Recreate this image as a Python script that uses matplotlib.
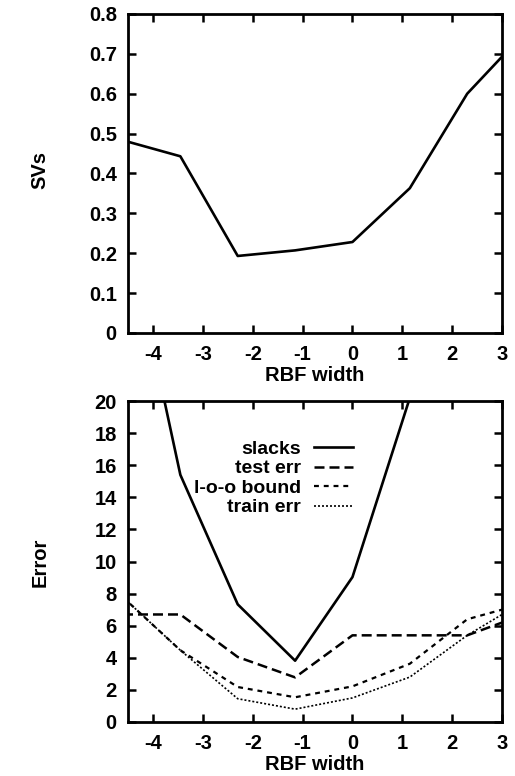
import matplotlib
matplotlib.use("Agg")
import matplotlib.pyplot as plt

plt.rcParams['font.family'] = ['Liberation Sans', 'DejaVu Sans']
plt.rcParams['font.weight'] = 'bold'
plt.rcParams['axes.labelweight'] = 'bold'
plt.rcParams['axes.unicode_minus'] = False
plt.rcParams['font.size'] = 14.5

# log RBF width grid (points beyond the axis limits are clipped)
rbf_width = [-4.6, -3.45, -2.3, -1.15, 0.0, 1.15, 2.3, 3.45]

# top panel: fraction of support vectors
svs = [0.483, 0.443, 0.193, 0.207, 0.228, 0.363, 0.600, 0.753]

# bottom panel: error curves
slacks = [32.0, 15.4, 7.33, 3.82, 9.03, 20.2, 35.0, 55.0]
test_err = [6.7, 6.7, 4.05, 2.78, 5.4, 5.4, 5.4, 6.71]
loo_bound = [7.77, 4.47, 2.18, 1.54, 2.22, 3.63, 6.4, 7.39]
train_err = [7.77, 4.47, 1.45, 0.8, 1.5, 2.8, 5.4, 7.54]

x_ticks = [-4, -3, -2, -1, 0, 1, 2, 3]
svs_ticks = [0, 0.1, 0.2, 0.3, 0.4, 0.5, 0.6, 0.7, 0.8]
svs_ticklabels = ['0', '0.1', '0.2', '0.3', '0.4', '0.5', '0.6', '0.7', '0.8']
err_ticks = [0, 2, 4, 6, 8, 10, 12, 14, 16, 18, 20]

fig = plt.figure(figsize=(5.15, 7.76), dpi=100)
ax1 = fig.add_axes([0.2485, 0.571, 0.7265, 0.411])
ax2 = fig.add_axes([0.2485, 0.0696, 0.7265, 0.4136])


def style(ax):
    for s in ax.spines.values():
        s.set_linewidth(2.0)
    ax.tick_params(direction='in', length=6, width=1.8, top=True, right=True)
    ax.tick_params(axis='x', pad=9)
    ax.tick_params(axis='y', pad=8)
    ax.set_xlim(-4.5, 3)
    ax.set_xticks(x_ticks)
    ax.set_xlabel('RBF width', labelpad=1)


ax1.plot(rbf_width, svs, color='black', lw=1.9)
style(ax1)
ax1.set_ylim(0, 0.8)
ax1.set_yticks(svs_ticks)
ax1.set_yticklabels(svs_ticklabels)
fig.text(0.078, 0.781, 'SVs', rotation=90, ha='center', va='center')

ax2.plot(rbf_width, slacks, color='black', lw=1.9, label='slacks')
ax2.plot(rbf_width, test_err, color='black', lw=1.8, ls=(0, (4, 2)),
         label='test err')
ax2.plot(rbf_width, loo_bound, color='black', lw=1.6, ls=(0, (2.2, 2.2)),
         label='l-o-o bound')
ax2.plot(rbf_width, train_err, color='black', lw=1.2, ls=(0, (1.2, 1.2)),
         label='train err')
style(ax2)
ax2.set_ylim(0, 20)
ax2.set_yticks(err_ticks)
fig.text(0.078, 0.276, 'Error', rotation=90, ha='center', va='center')

ax2.legend(loc='upper right', bbox_to_anchor=(0.602, 0.878), frameon=False,
           markerfirst=False, handlelength=2.0, handletextpad=0.7,
           labelspacing=0.1, borderpad=0, borderaxespad=0, fontsize=14)

fig.savefig('out.png', dpi=100)
